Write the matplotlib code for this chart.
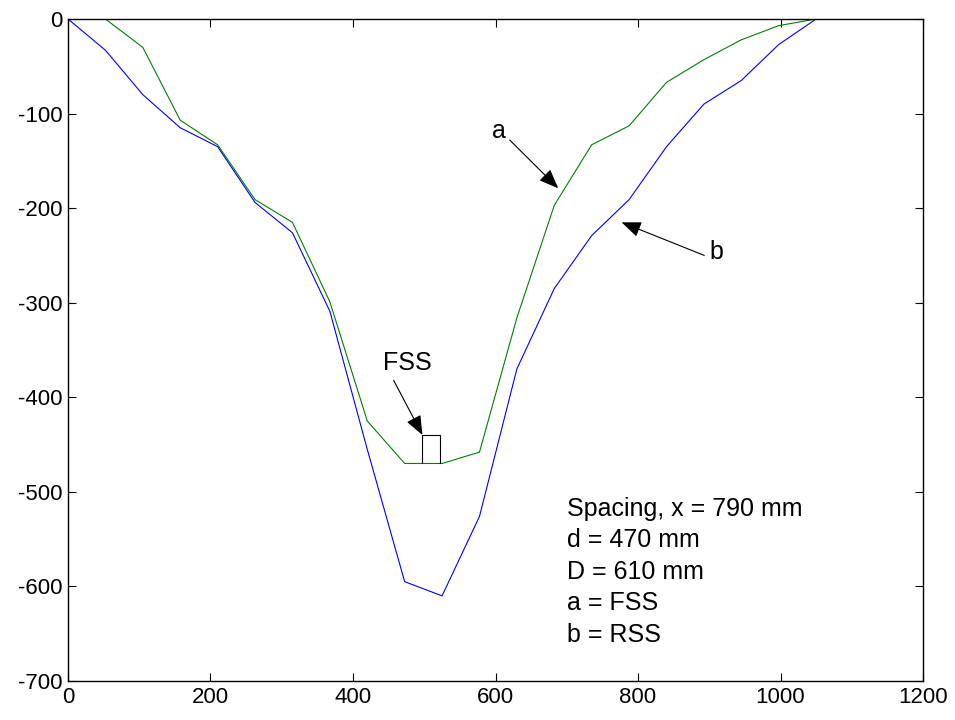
import matplotlib

matplotlib.use("Agg")
import matplotlib.pyplot as plt

plt.rcParams["font.family"] = ["Liberation Sans", "DejaVu Sans"]
plt.rcParams["axes.unicode_minus"] = False

# lateral offset (mm) of each point
offset_mm = [0, 52.5, 105, 157.5, 210, 262.5, 315, 367.5, 420, 472.5, 525,
             577.5, 630, 682.5, 735, 787.5, 840, 892.5, 945, 997.5, 1050]
# a = FSS profile
fss_depth = [0, 0, -30, -107, -133, -191, -215, -299, -425, -470, -470,
             -458, -316, -197, -133, -113, -67, -43, -22, -7, 0]
# b = RSS profile
rss_depth = [0, -33, -80, -115, -135, -194, -226, -309, -455, -595, -610,
             -526, -370, -285, -229, -191, -135, -90, -65, -27, 0]

# small FSS section box drawn at the bottom of the trough
box_x = [497.5, 497.5, 522, 522]
box_y = [-470, -440, -440, -470]

info_lines = ["Spacing, x = 790 mm", "d = 470 mm", "D = 610 mm", "a = FSS", "b = RSS"]

fig = plt.figure(figsize=(9.55, 7.2), dpi=100)
ax = fig.add_axes([0.0712, 0.0542, 0.8953, 0.9194])

ax.plot(offset_mm, rss_depth, color=(0, 0, 1), linewidth=0.8)
ax.plot(offset_mm, fss_depth, color=(0, 0.5, 0), linewidth=0.8)
ax.plot(box_x, box_y, color="black", linewidth=0.8)

arrow = dict(arrowstyle="-|>,head_length=0.75,head_width=0.3", color="black",
             linewidth=0.8, shrinkA=0, shrinkB=0, mutation_scale=16)
ax.annotate("", xy=(497.5, -440), xytext=(457, -382), arrowprops=arrow)
ax.annotate("", xy=(688, -179), xytext=(620, -128), arrowprops=arrow)
ax.annotate("", xy=(777, -215), xytext=(893, -250), arrowprops=arrow)

ax.text(477, -364, "FSS", fontsize=18, ha="center", va="center")
ax.text(605, -118, "a", fontsize=18, ha="center", va="center")
ax.text(910, -246, "b", fontsize=18, ha="center", va="center")
ax.text(700, -505, "\n".join(info_lines), fontsize=18, ha="left", va="top",
        linespacing=1.4)

ax.set_xlim(0, 1200)
ax.set_ylim(-700, 0)
ax.set_xticks(range(0, 1201, 200))
ax.set_yticks(range(-700, 1, 100))
ax.tick_params(direction="in", top=True, right=True, length=6, width=0.8,
               labelsize=16, pad=4)
for s in ax.spines.values():
    s.set_linewidth(1.0)

fig.savefig("out.png", dpi=100)
